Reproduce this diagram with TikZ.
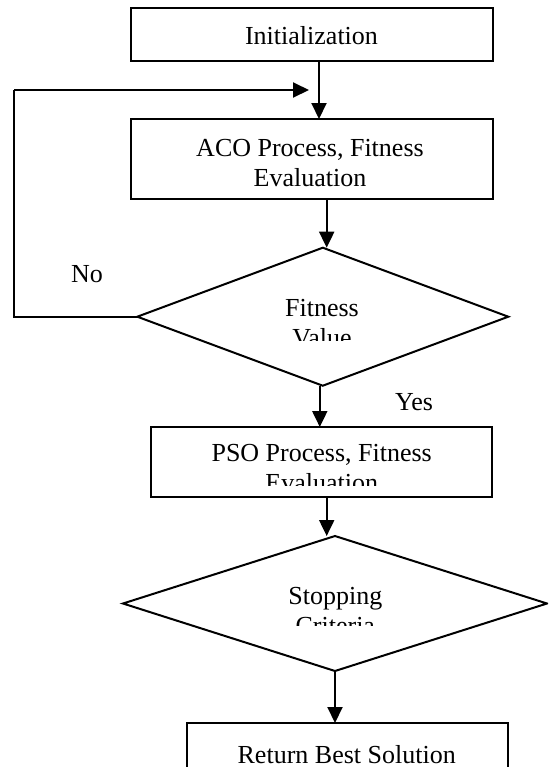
\documentclass[tikz,border=0pt]{standalone}
\usepackage{fontspec}
\setmainfont{Liberation Serif}
\usetikzlibrary{shapes.geometric,arrows.meta}
\begin{document}
\begin{tikzpicture}[x=0.5pt,y=-0.5pt,
  every node/.style={font=\fontsize{13}{15}\selectfont},
  stepbox/.style={draw, line width=1pt, rectangle, inner sep=0pt, outer sep=0pt},
  decision/.style={draw, line width=1pt, diamond, inner sep=0pt, outer sep=0pt},
  txt/.style={inner sep=0pt, outer sep=0pt, align=center},
  arr/.style={line width=1pt, -{Triangle[length=8pt,width=7.5pt]}},
  link/.style={line width=1pt}
]
\clip (0,0) rectangle (548,767);

% process boxes and decisions (shapes only)
\node[stepbox, minimum width=181pt, minimum height=26.75pt] (init) at (312,34.25) {};
\node[stepbox, minimum width=181pt, minimum height=40pt]    (aco)  at (312,159) {};
\node[decision, minimum width=185.5pt, minimum height=69pt] (fit) at (322.8,316.7) {};
\node[stepbox, minimum width=170.5pt, minimum height=35pt]  (pso)  at (321.5,462) {};
\node[decision, minimum width=212pt, minimum height=67.5pt] (stop) at (335,603.5) {};
\node[stepbox, minimum width=160.5pt, minimum height=41pt]  (ret)  at (347.5,764) {};

% texts
\node[txt, anchor=base] (tinit) at (311.5,44) {Initialization};
\node[txt, anchor=north] (taco) at (310,136) {\rule{0pt}{10pt}ACO Process, Fitness\\Evaluation};
\begin{scope}
  \clip (150,250) rectangle (500,340);
  \node[txt, anchor=north] (tfit) at (322,296.7) {\rule{0pt}{10pt}Fitness\\Value};
\end{scope}
\begin{scope}
  \clip (152,428) rectangle (491,485);
  \node[txt, anchor=north] (tpso) at (321.7,441.7) {\rule{0pt}{10pt}PSO Process, Fitness\\Evaluation};
\end{scope}
\begin{scope}
  \clip (150,540) rectangle (540,625);
  \node[txt, anchor=north] (tstop) at (335.3,584.3) {\rule{0pt}{10pt}Stopping\\Criteria};
\end{scope}
\node[txt, anchor=base] (tret) at (346.7,763.3) {Return Best Solution};
\node[txt, anchor=base] (tno) at (87,282) {No};
\begin{scope}
  \clip (380,380) rectangle (450,411);
  \node[txt, anchor=base] (tyes) at (414,410.5) {Yes};
\end{scope}

% connectors
\draw[arr] ([xshift=3.5pt]init.south) -- ([xshift=3.5pt]aco.north);
\draw[arr] ([xshift=7.35pt]aco.south) -- ([xshift=7.35pt]aco.south |- fit.north);
\draw[arr] ([xshift=-1.5pt]fit.south) -- ([xshift=-1.5pt]fit.south |- pso.north);
\draw[arr] ([xshift=2.6pt]pso.south) -- ([xshift=2.6pt]pso.south |- stop.north);
\draw[arr] (stop.south) -- (stop.south |- ret.north);

% "No" branch returns above the ACO step
\coordinate (loopcorner) at (14,90);
\coordinate (loopend) at (309,90);
\draw[link] (fit.west) -| (loopcorner);
\draw[arr] (loopcorner) -- (loopend);
\end{tikzpicture}
\end{document}
